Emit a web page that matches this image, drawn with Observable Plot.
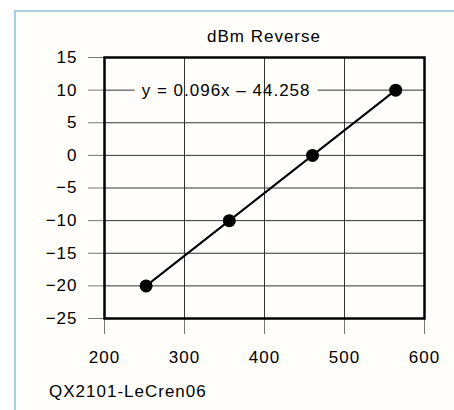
<!DOCTYPE html>
<html>
<head>
<meta charset="utf-8">
<script src="https://cdn.jsdelivr.net/npm/d3@7"></script>
<script src="https://cdn.jsdelivr.net/npm/@observablehq/plot@0.6"></script>
<style>
  html, body { margin: 0; padding: 0; background: #ffffff; }
  #page { position: relative; width: 454px; height: 410px; overflow: hidden; font-family: "Liberation Sans", Arial, sans-serif; }
  #frame { position: absolute; left: 14px; top: 10px; right: -4px; bottom: -4px;
           border-left: 2px solid #a9cfe2; border-top: 2px solid #a9cfe2; background: #fffefb; }
  #title { position: absolute; left: 0; width: 528px; top: 27px; text-align: center; font-size: 17px; letter-spacing: 1px; color: #000; }
  #caption { position: absolute; left: 49px; top: 382px; font-size: 17px; letter-spacing: 1px; color: #000; }
  #chart { position: absolute; left: 0; top: 40px; }
  #chart svg { background: transparent; }
  #chart [aria-label="x-axis tick"] path, #chart [aria-label="y-axis tick"] path { stroke: #777; }
  #chart text { letter-spacing: 1px; }
</style>
</head>
<body>
<div id="page">
  <div id="frame"></div>
  <div id="title">dBm Reverse</div>
  <div id="chart"></div>
  <div id="caption">QX2101-LeCren06</div>
</div>
<script>
const titleText = "dBm Reverse";
const captionText = "QX2101-LeCren06";
const xTicks = [200, 300, 400, 500, 600];
const yTicks = [-25, -20, -15, -10, -5, 0, 5, 10, 15];
const inputX = [252, 356, 460, 564];
const dbmValues = [-20, -10, 0, 10];
const equationText = "y = 0.096x \u2013 44.258";
const equationAtX = [352];
const equationAtY = [10];

document.getElementById("title").textContent = titleText;
document.getElementById("caption").textContent = captionText;

const points = inputX.map((x, i) => ({x, y: dbmValues[i]}));
const labels = equationAtX.map((x, i) => ({x, y: equationAtY[i], text: equationText}));

const chart = Plot.plot({
  width: 454,
  height: 330,
  marginLeft: 104,
  marginRight: 30,
  marginTop: 17,
  marginBottom: 52,
  style: {fontFamily: "Liberation Sans, Arial, sans-serif", fontSize: "17px", color: "#000", background: "transparent", overflow: "visible"},
  x: {domain: [200, 600], ticks: xTicks, tickSize: 16, tickPadding: 16, tickFormat: d => String(d), label: null},
  y: {domain: [-25, 15], ticks: yTicks, tickSize: 16, tickPadding: 11, label: null},
  marks: [
    Plot.gridY(yTicks, {stroke: "#333", strokeOpacity: 1, strokeWidth: 1}),
    Plot.gridX(xTicks, {stroke: "#333", strokeOpacity: 1, strokeWidth: 1}),
    Plot.frame({stroke: "#000", strokeWidth: 2.5}),
    Plot.text(labels, {x: "x", y: "y", text: "text", fill: "#000", fontSize: 17}),
    Plot.line(points, {x: "x", y: "y", stroke: "#000", strokeWidth: 2}),
    Plot.dot(points, {x: "x", y: "y", r: 6.5, fill: "#000", stroke: "none"})
  ]
});
document.getElementById("chart").appendChild(chart);

// box behind the equation label: hides the horizontal gridline only
const textG = chart.querySelector('g[aria-label="text"]');
const xGrid = chart.querySelector('g[aria-label="x-grid"]');
if (textG) {
  textG.querySelectorAll("text").forEach(t => {
    const b = t.getBBox();
    const ctm = t.getCTM();
    const r = document.createElementNS("http://www.w3.org/2000/svg", "rect");
    r.setAttribute("x", b.x - 7 + (ctm ? ctm.e : 0));
    r.setAttribute("y", b.y + 1 + (ctm ? ctm.f : 0));
    r.setAttribute("width", b.width + 14);
    r.setAttribute("height", b.height - 2);
    r.setAttribute("fill", "#fffefb");
    if (xGrid) xGrid.parentNode.insertBefore(r, xGrid);
    else t.parentNode.insertBefore(r, t);
  });
}
</script>
</body>
</html>
